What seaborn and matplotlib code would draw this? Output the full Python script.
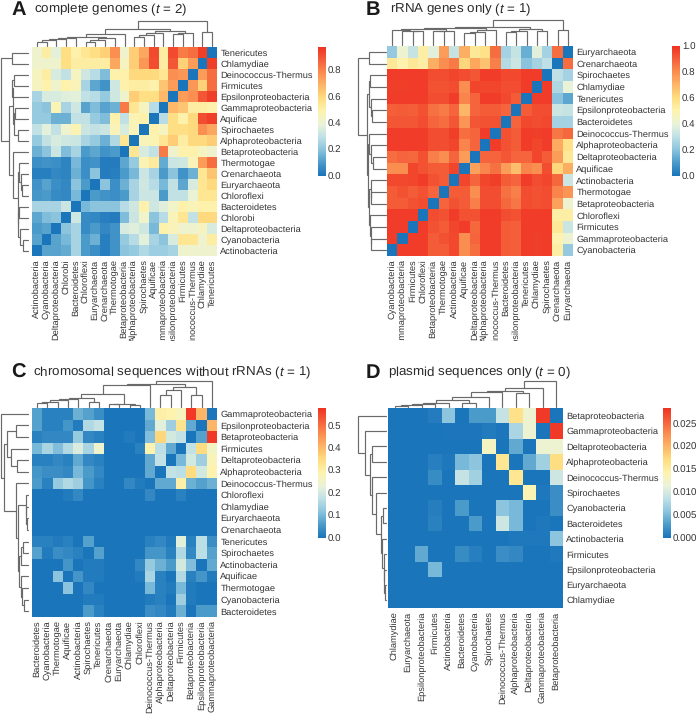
import matplotlib
matplotlib.use("Agg")
import matplotlib.pyplot as plt
import pandas as pd
import seaborn as sns
from matplotlib.colors import LinearSegmentedColormap
from matplotlib.transforms import Bbox

W, H = 697, 716

ACT, CYA, DEL, CHO, BAC, CHX = ("Actinobacteria", "Cyanobacteria", "Deltaproteobacteria",
                                "Chlorobi", "Bacteroidetes", "Chloroflexi")
EUR, CRE, THE, BET, ALP, SPI = ("Euryarchaeota", "Crenarchaeota", "Thermotogae",
                                "Betaproteobacteria", "Alphaproteobacteria", "Spirochaetes")
AQU, GAM, EPS, FIR, DEI, CHL, TEN = ("Aquificae", "Gammaproteobacteria", "Epsilonproteobacteria",
                                     "Firmicutes", "Deinococcus-Thermus", "Chlamydiae", "Tenericutes")

# panel A
cols_a = [ACT, CYA, DEL, CHO, BAC, CHX, EUR, CRE, THE, BET, ALP, SPI, AQU, GAM, EPS, FIR, DEI, CHL, TEN]
rows_a = cols_a[::-1]
vals_a = [
    [.42, .52, .38, .58, .50, .55, .58, .62, .78, .42, .63, .72, .93, .52, .93, .82, .85, .95, 0],
    [.42, .42, .42, .58, .52, .52, .52, .52, .72, .45, .63, .76, .92, .52, .90, .62, .75, 0, .95],
    [.45, .52, .35, .30, .45, .33, .28, .18, .50, .50, .60, .60, .60, .55, .78, .76, 0, .75, .85],
    [.45, .50, .42, .50, .47, .25, .13, .08, .33, .50, .52, .52, .50, .65, .75, 0, .76, .62, .85],
    [.25, .35, .35, .37, .38, .30, .28, .22, .33, .42, .63, .58, .58, .68, 0, .75, .78, .90, .95],
    [.22, .20, .48, .25, .33, .12, .18, .12, .15, .82, .55, .45, .28, 0, .68, .65, .52, .52, .50],
    [.22, .22, .15, .15, .30, .30, .22, .18, .50, .30, .48, .50, 0, .28, .58, .50, .60, .92, .95],
    [.30, .38, .30, .42, .48, .32, .30, .32, .47, .35, .47, 0, .50, .45, .58, .58, .60, .78, .72],
    [.22, .30, .35, .33, .32, .25, .22, .15, .27, .55, 0, .47, .48, .55, .63, .52, .60, .60, .63],
    [.15, .20, .32, .18, .25, .10, .13, .08, .10, 0, .55, .35, .30, .82, .42, .50, .50, .45, .42],
    [.07, .08, .07, .04, .17, .07, .08, .02, .02, .13, .22, .48, .53, .14, .32, .33, .47, .75, .85],
    [.03, .03, .05, .04, .15, .07, .20, .02, .03, .10, .17, .32, .25, .10, .20, .08, .15, .55, .65],
    [.08, .12, .07, .05, .20, .10, 0, .20, .07, .15, .25, .33, .28, .17, .30, .13, .35, .55, .60],
    [.09, .10, .06, .05, .17, 0, .10, .08, .07, .10, .25, .32, .32, .10, .30, .30, .40, .55, .55],
    [.25, .25, .25, .32, 0, .17, .20, .20, .20, .28, .33, .50, .33, .37, .43, .50, .47, .50, .50],
    [.13, .18, .20, 0, .33, .06, .05, .03, .02, .18, .32, .43, .20, .28, .47, .55, .30, .60, .60],
    [.10, .12, 0, .20, .25, .06, .10, .05, .08, .35, .37, .33, .17, .50, .47, .42, .42, .45, .35],
    [.12, 0, .12, .17, .25, .10, .15, .03, .08, .22, .28, .38, .25, .20, .35, .55, .55, .42, .52],
    [0, .12, .12, .14, .25, .10, .07, .03, .08, .20, .22, .27, .23, .23, .25, .42, .42, .42, .42],
]
top_a = (1.0, (.69, (.50, (.36, (.33, (.28, (.24, (.18, 0, 1), 2), 3), 4),
                      (.31, (.24, (.17, 5, 6), 7), 8)), 9),
               (.59, (.53, (.44, (.37, 10, 11), 12), 13), (.53, (.49, 14, 15), 16))),
         (.56, 17, 18))
left_a = (1.0, (.61, 0, 1),
          (.72, (.57, (.59, (.52, 2, 3), 4), (.52, (.50, 5, 6), (.39, 7, 8))),
           (.55, 9, (.39, (.35, 10, (.28, 11, (.23, 12, 13))),
                     (.37, (.33, 14, 15), (.30, 16, (.20, 17, 18)))))))

# panel B
cols_b = [CYA, GAM, FIR, CHX, BET, THE, ACT, AQU, DEL, ALP, DEI, BAC, EPS, TEN, CHL, SPI, CRE, EUR]
rows_b = cols_b[::-1]
vals_b = [
    [.22, .42, .32, .52, .38, .76, .32, .72, .55, .58, .87, .25, .32, .15, .38, .25, .87, 0],
    [.55, .50, .55, .52, .72, .80, .84, .62, .74, .67, .83, .28, .33, .20, .25, .30, 0, .87],
    [.98, .98, .98, .98, .94, .94, .96, .94, .92, .98, .98, .95, .95, .98, .98, 0, .30, .25],
    [.97, .97, .98, .98, .93, .93, .94, .80, .96, .96, .96, .94, .94, .98, 0, .98, .27, .40],
    [.98, .98, .98, .98, .94, .94, .98, .82, .89, .98, .98, .95, .91, 0, .98, .98, .20, .13],
    [.90, .91, .90, .93, .86, .84, .89, .70, .89, .91, .91, .89, 0, .91, .94, .94, .33, .32],
    [.92, .92, .92, .94, .89, .87, .92, .78, .92, .93, .93, 0, .89, .95, .94, .95, .25, .25],
    [.98, .98, .98, .98, .94, .94, .97, .87, .89, .98, 0, .93, .91, .98, .97, .98, .85, .88],
    [.98, .98, .98, .98, .94, .94, .96, .82, .89, 0, .98, .93, .91, .98, .96, .98, .73, .58],
    [.87, .89, .88, .93, .83, .80, .89, .76, 0, .89, .89, .92, .89, .89, .96, .91, .76, .55],
    [.80, .80, .96, .93, .91, .91, .96, 0, .75, .82, .86, .76, .68, .82, .80, .94, .62, .72],
    [.95, .95, .96, .98, .93, .91, 0, .96, .89, .96, .97, .91, .89, .98, .94, .96, .88, .33],
    [.91, .93, .91, .93, .89, 0, .91, .91, .80, .94, .94, .86, .83, .94, .93, .94, .82, .78],
    [.91, .91, .93, .94, 0, .89, .93, .91, .83, .94, .94, .88, .85, .94, .93, .94, .75, .42],
    [.98, .98, .98, 0, .94, .93, .98, .93, .93, .98, .98, .94, .93, .98, .98, .98, .52, .52],
    [.98, .98, 0, .98, .93, .91, .96, .98, .88, .98, .98, .91, .90, .98, .98, .98, .55, .33],
    [.98, 0, .98, .98, .91, .93, .95, .80, .89, .98, .98, .91, .90, .98, .97, .98, .50, .42],
    [0, .98, .98, .98, .91, .91, .95, .80, .87, .98, .98, .91, .90, .98, .97, .98, .52, .22],
]
top_b = (1.0, (.71, (.67, (.63, (.60, 0, (.58, 1, (.56, 2, 3))), (.58, (.56, 4, 5), 6)),
                      (.61, (.53, (.48, 7, 8), 9), 10)),
               (.63, (.57, (.53, 11, 12), 13), (.58, 14, 15))),
         (.60, 16, 17))
left_b = (1.0, (.59, 0, 1),
          (.69, (.62, (.57, 2, 3), (.53, 4, (.50, 5, 6))),
           (.64, (.60, 7, (.53, 8, (.48, 9, 10))),
            (.60, (.55, 11, (.53, 12, 13)), (.57, 14, (.55, 15, (.53, 16, 17)))))))

# panel C
cols_c = [BAC, CYA, THE, AQU, ACT, SPI, TEN, CRE, EUR, CHL, CHX, DEI, ALP, DEL, FIR, BET, EPS, GAM]
rows_c = [GAM, EPS, BET, FIR, DEL, ALP, DEI, CHX, CHL, EUR, CRE, TEN, SPI, ACT, AQU, THE, CYA, BAC]
vals_c = [
    [.07, .02, .02, .02, .09, .07, .04, 0, 0, 0, 0, .10, .30, .29, .27, .57, .41, 0],
    [.07, .02, .02, .05, .01, .16, .18, 0, 0, 0, 0, .08, .22, .14, .33, .08, 0, .41],
    [.02, .03, .03, .03, .13, .03, .02, 0, 0, .01, 0, .11, .36, .20, .18, 0, .07, .57],
    [.10, .15, .11, .16, .21, .15, .25, 0, 0, 0, .02, .29, .17, .08, 0, .18, .35, .26],
    [.02, .02, .03, .02, .08, .03, .02, 0, 0, 0, 0, .08, .18, 0, .10, .20, .14, .28],
    [.05, .04, .04, .03, .10, .06, .03, 0, 0, 0, 0, .08, 0, .18, .17, .35, .20, .29],
    [.06, .02, .13, .16, .14, .05, .02, 0, 0, .03, .01, 0, .08, .08, .30, .09, .07, .09],
    [0, 0, 0, .01, .03, 0, 0, 0, 0, 0, 0, .03, 0, 0, .02, 0, 0, 0],
    [0, 0, 0, 0, 0, 0, 0, 0, 0, 0, 0, 0, 0, 0, 0, 0, 0, 0],
    [0, 0, 0, 0, 0, 0, 0, 0, 0, 0, 0, 0, 0, 0, 0, 0, 0, 0],
    [0, 0, 0, 0, 0, 0, 0, 0, 0, 0, 0, 0, 0, 0, 0, 0, 0, 0],
    [.02, .02, .01, .02, 0, .07, 0, 0, 0, 0, 0, .02, .03, .01, .22, .02, .17, .04],
    [.07, .01, .04, .03, .02, 0, .07, 0, 0, 0, 0, .05, .05, .02, .16, .03, .17, .07],
    [0, 0, 0, .05, 0, .01, .01, 0, 0, 0, .03, .13, .09, .06, .20, .11, 0, .08],
    [0, 0, .12, 0, .05, .01, .01, 0, 0, 0, .01, .15, .02, 0, .16, .02, .05, .01],
    [0, 0, 0, .12, 0, .03, 0, 0, 0, 0, 0, .10, .02, .01, .10, .01, 0, 0],
    [0, 0, 0, 0, 0, .01, .01, 0, 0, 0, 0, .01, .02, 0, .14, .01, 0, 0],
    [0, 0, 0, 0, 0, .06, .02, 0, 0, 0, 0, .04, .03, .01, .09, 0, .06, .06],
]
top_c = (1.0, (.88, (.85, (.50, (.36, (.32, (.26, (.20, (.15, 0, 1), 2), 3), 4), (.20, 5, 6)),
                            (.11, (.10, 7, 8), (.09, 9, 10))), 11),
               (.76, (.64, (.46, 12, 13), 14), (.48, 15, 16))), 17)
left_c = (1.0, 0,
          (.87, (.78, (.42, 1, 2), (.61, 3, (.40, 4, 5))),
           (.44, 6, (.34, (.05, 7, (.04, 8, (.03, 9, 10))),
                     (.30, (.25, (.15, 11, 12), 13),
                      (.25, 14, (.20, 15, (.12, 16, 17))))))))

# panel D
cols_d = [CHL, EUR, EPS, FIR, ACT, BAC, CYA, SPI, DEI, ALP, DEL, GAM, BET]
rows_d = [BET, GAM, DEL, ALP, DEI, SPI, CYA, BAC, ACT, FIR, EPS, EUR, CHL]
vals_d = [
    [0, 0, 0, .0006, .006, 0, .003, .003, .009, .0165, .012, .028, 0],
    [0, 0, 0, 0, .0002, .0002, .0002, .0005, .0002, .0075, .012, 0, .028],
    [0, 0, 0, 0, 0, 0, 0, .013, 0, .004, 0, .012, .012],
    [0, 0, 0, .0008, .0003, .005, .006, 0, .016, 0, .004, .007, .017],
    [0, 0, 0, .0018, 0, .009, .007, 0, 0, .016, 0, 0, .0095],
    [0, 0, 0, 0, 0, 0, 0, 0, 0, 0, .014, .0003, .002],
    [0, 0, 0, .0007, 0, .003, 0, 0, .006, .005, 0, 0, .002],
    [0, 0, 0, .0009, 0, 0, .003, 0, .0095, .005, 0, .0003, 0],
    [0, 0, 0, 0, 0, 0, 0, 0, 0, .0003, .0003, .0003, .006],
    [0, 0, .004, 0, 0, .0018, .0008, 0, .002, .0015, 0, 0, .0004],
    [0, 0, 0, .005, 0, 0, 0, 0, 0, 0, 0, 0, 0],
    [0, 0, 0, 0, 0, 0, 0, 0, 0, 0, 0, 0, 0],
    [0, 0, 0, 0, 0, 0, 0, 0, 0, 0, 0, 0, 0],
]
top_d = (1.0, (.74, (.63, (.56, (.40, (.26, (.17, (.12, (.08, (.04, 0, 1), 2), 3), 4), (.15, 5, 6)), 7), 8),
               (.53, 9, 10)), 11), 12)
left_d = (1.0, 0,
          (.73, 1, (.57, (.51, 2, 3),
                    (.51, 4, (.35, 5, (.18, (.08, 6, 7),
                                       (.12, 8, (.07, 9, (.05, 10, (.03, 11, 12))))))))))

ticks_01 = [0, .2, .4, .6, .8]
ticks_b = [0, .2, .4, .6, .8, 1.0]
ticks_c = [0, .1, .2, .3, .4, .5]
ticks_d = [0, .005, .01, .015, .02, .025]

cmap_colors = ["#1b75bb", "#4a9aca", "#8ac3dd", "#bfe0e6", "#e9f3d8", "#fdf3b0",
               "#fedd80", "#fdb768", "#fa8d50", "#f4603a", "#ef3323"]
cmap = LinearSegmentedColormap.from_list("heat", cmap_colors)

sns.set_style("white")
plt.rcParams["font.family"] = ["Liberation Sans", "DejaVu Sans"]
plt.rcParams["mathtext.fontset"] = "custom"
plt.rcParams["mathtext.it"] = "Liberation Sans:italic"
plt.rcParams["mathtext.rm"] = "Liberation Sans"
plt.rcParams["text.hinting"] = "no_hinting"

fig = plt.figure(figsize=(W / 100, H / 100), dpi=100)


def add_ax(x0, y0, x1, y1):
    # box given in pixels from the top left
    return fig.add_axes([x0 / W, 1 - y1 / H, (x1 - x0) / W, (y1 - y0) / H])


def draw_tree(ax, node, horizontal):
    # node is a leaf number or (height, left, right), returns (position, height)
    if isinstance(node, int):
        return node + .5, 0
    h, a, b = node
    pa, ha = draw_tree(ax, a, horizontal)
    pb, hb = draw_tree(ax, b, horizontal)
    xs, ys = [pa, pa, pb, pb], [ha, h, h, hb]
    if horizontal:
        ax.plot(xs, ys, color="#6a6a6a", lw=.85, solid_joinstyle="miter")
    else:
        ax.plot(ys, xs, color="#6a6a6a", lw=.85, solid_joinstyle="miter")
    return (pa + pb) / 2, h


def panel(vals, rows, cols, top, left, vmax, ticks, fmt, hm_box, top_y, left_x, cb_box, clip_y=None):
    df = pd.DataFrame(vals, index=rows, columns=cols)
    ax = add_ax(*hm_box)
    cax = add_ax(*cb_box)
    sns.heatmap(df, ax=ax, cbar_ax=cax, cmap=cmap, vmin=0, vmax=vmax,
                xticklabels=True, yticklabels=True,
                cbar_kws={"ticks": ticks, "format": fmt})
    ax.yaxis.tick_right()
    ax.tick_params(axis="both", length=0, pad=2.5, labelsize=6.65, labelcolor="#333333")
    ax.set_xlabel("")
    ax.set_ylabel("")
    plt.setp(ax.get_xticklabels(), rotation=90)
    plt.setp(ax.get_yticklabels(), rotation=0)
    cax.tick_params(length=0, pad=1.5, labelsize=7, labelcolor="#333333")
    if clip_y is not None:
        # long column names are cut off in the original panel
        box = Bbox([[0, H - clip_y], [W, H]])
        for t in ax.get_xticklabels():
            t.set_clip_box(box)
            t.set_clip_on(True)

    n, m = df.shape
    t_ax = add_ax(hm_box[0], top_y[0], hm_box[2], top_y[1])
    draw_tree(t_ax, top, True)
    t_ax.set_xlim(0, m)
    t_ax.set_ylim(0, 1)
    l_ax = add_ax(left_x[0], hm_box[1], left_x[1], hm_box[3])
    draw_tree(l_ax, left, False)
    l_ax.set_ylim(n, 0)
    l_ax.set_xlim(1, 0)
    for a in (t_ax, l_ax):
        a.axis("off")
        for line in a.lines:
            line.set_clip_on(False)


panel(vals_a, rows_a, cols_a, top_a, left_a, .98, ticks_01, "%.1f",
      (32, 47, 217, 256), (21, 46), (1.3, 28), (318, 47, 326, 176), clip_y=341)
panel(vals_b, rows_b, cols_b, top_b, left_b, 1.0, ticks_b, "%.1f",
      (387, 46, 573, 256), (20, 45), (358, 386), (672, 46, 680, 176), clip_y=341)
panel(vals_c, rows_c, cols_c, top_c, left_c, .58, ticks_c, "%.1f",
      (32, 408, 217, 617), (381, 407), (0.7, 27.5), (318, 408, 326, 538))
panel(vals_d, rows_d, cols_d, top_d, left_d, .0285, ticks_d, "%.3f",
      (388, 408, 563, 608), (381, 407), (358, 385.6), (663, 408, 671, 538))

titles = [("A", 11, 34, 10, "complete genomes ($t$ = 2)"),
          ("B", 366, 390, 10, "rRNA genes only ($t$ = 1)"),
          ("C", 11, 33, 373, "chromosomal sequences without rRNAs ($t$ = 1)"),
          ("D", 366, 388, 373, "plasmid sequences only ($t$ = 0)")]
for letter, lx, tx, ty, text in titles:
    fig.text(lx / W, 1 - ty / H, letter, fontsize=14.5, fontweight="bold", color="#1a1a1a",
             ha="left", va="center")
    fig.text(tx / W, 1 - ty / H, text, fontsize=9.6, color="#2a2a2a", ha="left", va="center")

fig.savefig("out.png", dpi=100)
